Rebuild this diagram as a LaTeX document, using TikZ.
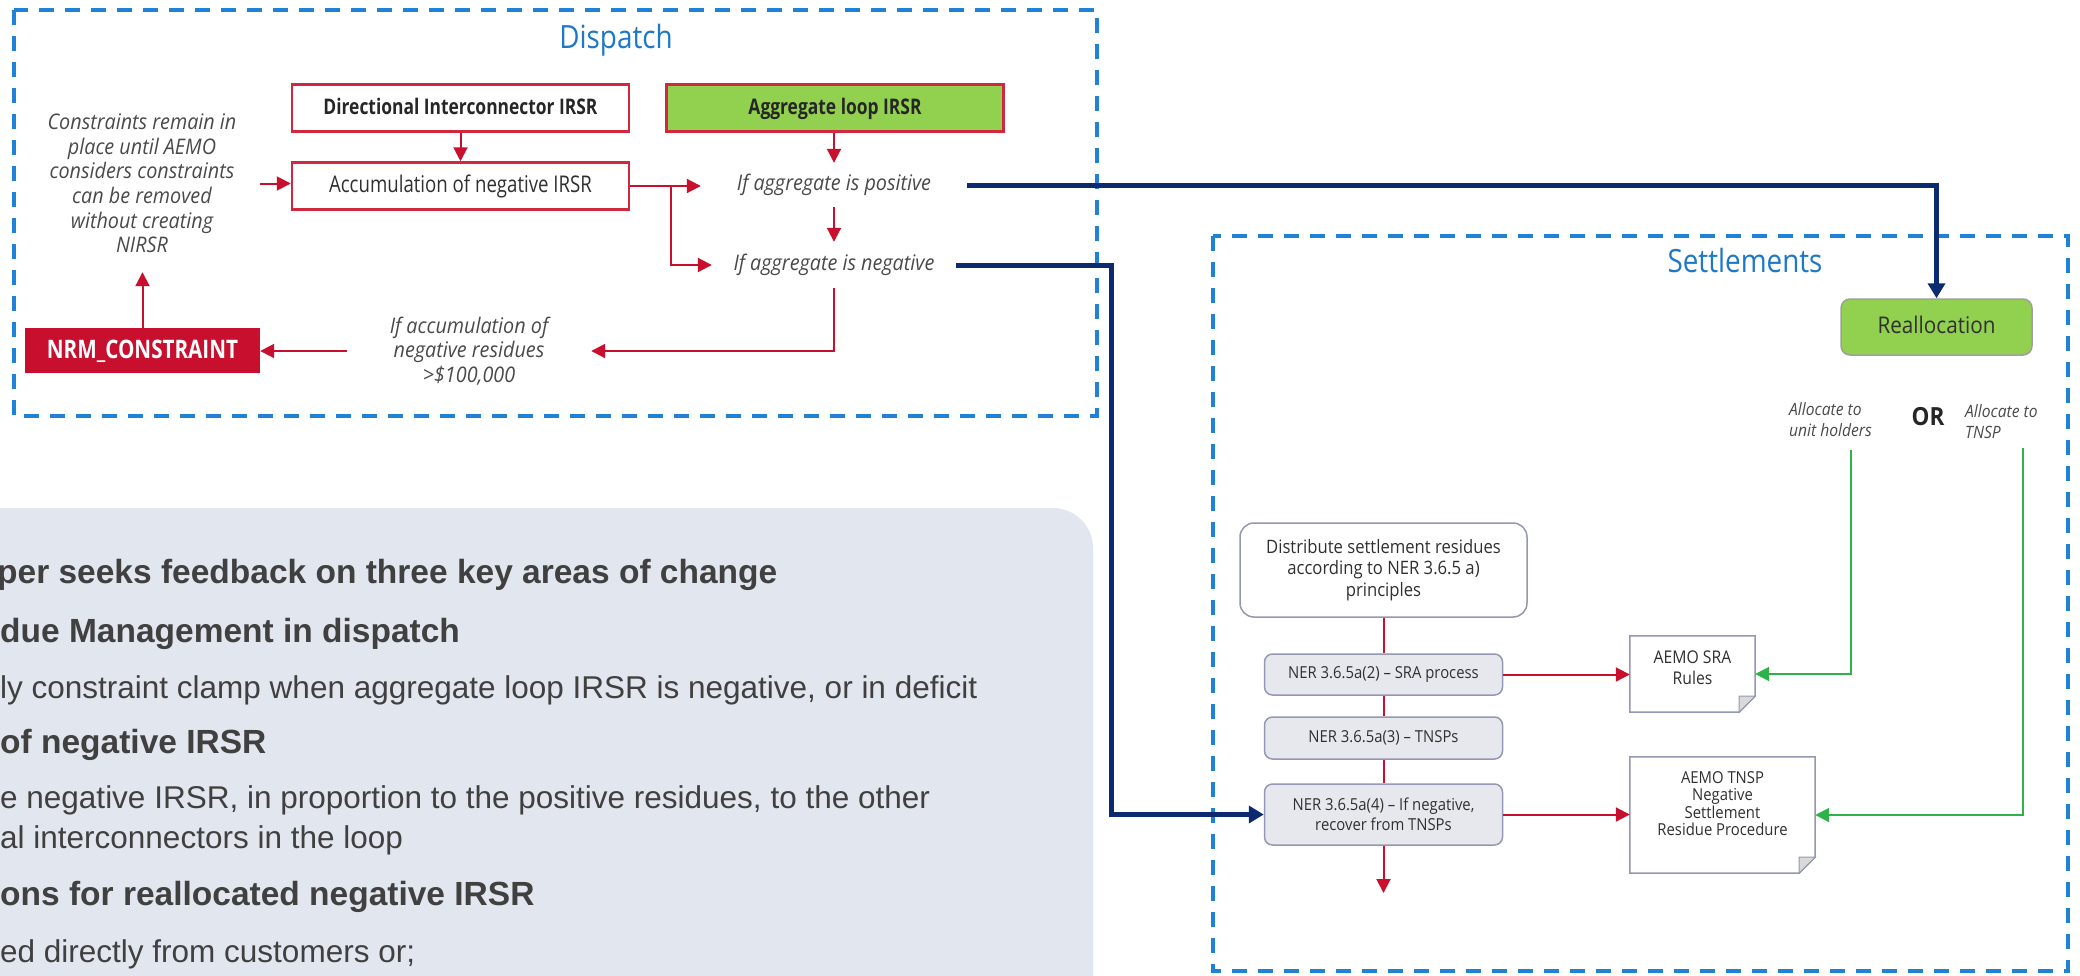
\documentclass[tikz,border=0pt]{standalone}
\usepackage{fontspec}
\setmainfont{Liberation Sans}
\newfontfamily\dg[FakeStretch=0.9]{Open Sans}
\newfontfamily\dgc[FakeStretch=0.81]{Open Sans}
\newfontfamily\dgt[FakeStretch=0.87]{Open Sans}
\newfontfamily\dgi[FakeStretch=0.92]{Open Sans}
\usetikzlibrary{arrows.meta,calc}

\definecolor{dashblue}{HTML}{1F82D6}
\definecolor{titleblue}{HTML}{1E78C8}
\definecolor{flowred}{HTML}{C8102E}
\definecolor{boxred}{HTML}{D2283F}
\definecolor{navy}{HTML}{0B2A6F}
\definecolor{leaf}{HTML}{92D050}
\definecolor{flowgreen}{HTML}{2DB34A}
\definecolor{greybox}{HTML}{E7E8EE}
\definecolor{greyedge}{HTML}{9598B2}
\definecolor{panel}{HTML}{E2E6EF}
\definecolor{panelink}{HTML}{404040}
\definecolor{ink}{HTML}{303030}
\definecolor{softink}{HTML}{4A4A4A}

\tikzset{
  zone/.style={draw=dashblue, line width=3.5pt, dash pattern=on 15pt off 11pt},
  zonetitle/.style={text=titleblue, inner sep=0pt, font=\dgt\fontsize{32}{36}\selectfont},
  redbox/.style={draw=boxred, line width=2.5pt, fill=white, minimum width=337pt,
    minimum height=47pt, inner sep=0pt, text=ink, text height=16pt, text depth=3pt,
    font=\dgc\fontsize{23}{26}\selectfont},
  boldtxt/.style={font=\dgc\bfseries\fontsize{21.5}{25}\selectfont, text=black!85},
  cond/.style={inner sep=0pt, align=center, text=softink,
    font=\dgi\itshape\fontsize{21.5}{24.6}\selectfont},
  nrmbox/.style={fill=flowred, text=white, minimum width=235pt, minimum height=45pt,
    inner sep=0pt, text height=17pt, text depth=2pt,
    font=\dgc\bfseries\fontsize{25.5}{28}\selectfont},
  redflow/.style={draw=flowred, line width=2pt, -{Triangle[length=14pt,width=14pt]}},
  redline/.style={draw=flowred, line width=2pt},
  navyflow/.style={draw=navy, line width=5pt},
  navyhead/.style={-{Triangle[length=15pt,width=17pt]}},
  greenflow/.style={draw=flowgreen, line width=2pt, -{Triangle[length=14pt,width=14pt]}},
  nerbox/.style={draw=greyedge, line width=1.5pt, fill=greybox, rounded corners=8pt,
    minimum width=238pt, inner sep=0pt, align=center, text=ink,
    font=\dg\fontsize{16.5}{20}\selectfont},
  distbox/.style={draw=greyedge, line width=1.5pt, fill=white, rounded corners=14pt,
    minimum width=287pt, minimum height=94pt, inner sep=0pt, align=center, text=ink,
    font=\dg\fontsize{18.5}{21.5}\selectfont},
  greenbox/.style={draw=gray!75, line width=1.5pt, fill=leaf, rounded corners=9pt,
    minimum width=191pt, minimum height=56pt, inner sep=0pt, text=ink,
    text height=15pt, text depth=3pt, font=\dg\fontsize{23}{26}\selectfont},
  docbox/.style={inner sep=0pt},
  docline/.style={draw=greyedge, line width=1.5pt, fill=white},
  docfold/.style={draw=greyedge, line width=1pt, fill=gray!30},
  doctext/.style={inner sep=0pt, align=center, text=ink, font=\dg\fontsize{17.5}{20}\selectfont},
  smallit/.style={inner sep=0pt, align=left, text=softink, font=\dgi\itshape\fontsize{17}{21}\selectfont},
  orlabel/.style={inner sep=0pt, text=black!85, font=\dg\bfseries\fontsize{25}{28}\selectfont},
  bodyb/.style={inner sep=0pt, anchor=base west, text=panelink, font=\bfseries\fontsize{33.5}{40}\selectfont},
  bodyr/.style={inner sep=0pt, anchor=base west, text=panelink, font=\fontsize{31.5}{38}\selectfont},
}

\begin{document}
\begin{tikzpicture}[x=1pt,y=-1pt]
\useasboundingbox (0,0) rectangle (2080,975);
\clip (0,0) rectangle (2080,975);
\fill[white] (0,0) rectangle (2080,975);

% ---- text panel, lower left ----
\fill[panel, rounded corners=40pt] (-60,508) rectangle (1093,1040);
\node[bodyb] (p1) at (-3,583) {per seeks feedback on three key areas of change};
\node[bodyb] (p2) at (0,642) {due Management in dispatch};
\node[bodyr] (p3) at (0,698) {ly constraint clamp when aggregate loop IRSR is negative, or in deficit};
\node[bodyb] (p4) at (0,753) {of negative IRSR};
\node[bodyr] (p5) at (0,808) {e negative IRSR, in proportion to the positive residues, to the other};
\node[bodyr] (p6) at (0,848) {al interconnectors in the loop};
\node[bodyb] (p7) at (0,905) {ons for reallocated negative IRSR};
\node[bodyr] (p8) at (0,962) {ed directly from customers or;};

% ---- zones ----
\draw[zone] (14,10) rectangle (1097,416);
\draw[zone] (1213,236) rectangle (2068,971);
\node[zonetitle] (tdisp) at (616,40) {Dispatch};
\node[zonetitle] (tsett) at (1745,260) {Settlements};

% ---- dispatch flow ----
\node[redbox, boldtxt] (dir) at (460.5,108) {Directional Interconnector IRSR};
\node[redbox, boldtxt, fill=leaf] (agg) at (835,108) {Aggregate loop IRSR};
\node[redbox] (acc) at (460.5,186) {Accumulation of negative IRSR};
\node[cond, minimum width=266pt, minimum height=44pt] (pos) at (834,185) {If aggregate is positive};
\node[cond, minimum width=244pt, minimum height=46pt] (neg) at (834,265) {If aggregate is negative};
\node[cond, minimum width=236pt, minimum height=177pt] (hold) at (142,183.5)
  {Constraints remain in\\place until AEMO\\considers constraints\\can be removed\\without creating\\NIRSR};
\node[nrmbox] (nrm) at (142.5,350.5) {NRM\_CONSTRAINT};
\node[cond, minimum width=244pt] (trig) at (469,351) {If accumulation of\\negative residues\\>\$100,000};
\coordinate (split) at (671,186);

\draw[redflow] (dir.south) -- (acc.north);
\draw[redflow] (agg.south -| pos.north) -- (pos.north);
\draw[redflow] (pos.south) -- (neg.north);
\draw[redflow] (acc.east) -- (acc.east -| pos.west);
\draw[redflow] (split) |- (neg.west);
\draw[redflow] (neg.south) |- (trig.east);
\draw[redflow] (trig.west) -- (trig.west -| nrm.east);
\draw[redflow] (nrm.north) -- (nrm.north |- hold.south);
\draw[redflow] (hold.east) -- (hold.east -| acc.west);

% ---- settlements flow ----
\node[greenbox] (realloc) at (1936.5,327) {Reallocation};
\node[smallit, anchor=west] (allocU) at (1789,419.5) {Allocate to\\unit holders};
\node[orlabel] (or) at (1928,417) {OR};
\node[smallit, anchor=west] (allocT) at (1965,422) {Allocate to\\TNSP};

\node[distbox] (dist) at (1383.5,570) {Distribute settlement residues\\according to NER 3.6.5 a)\\principles};
\node[nerbox, minimum height=41pt] (nr2) at (1383.5,674.5) {NER 3.6.5a(2) – SRA process};
\node[nerbox, minimum height=42pt] (nr3) at (1383.5,738) {NER 3.6.5a(3) – TNSPs};
\node[nerbox, minimum height=61pt] (nr4) at (1383.5,814.5) {NER 3.6.5a(4) – If negative,\\recover from TNSPs};
\coordinate (out) at (1383.5,893);

\node[docbox, minimum width=125pt, minimum height=76pt] (doc1) at (1692.5,674) {};
\node[docbox, minimum width=185pt, minimum height=116pt] (doc2) at (1722.5,815) {};
\foreach \d in {doc1,doc2} {
  \draw[docline] (\d.north west) -- (\d.north east) -- ([yshift=16pt]\d.south east)
    -- ([xshift=-16pt]\d.south east) -- (\d.south west) -- cycle;
  \draw[docfold] ([yshift=16pt]\d.south east) -- ([xshift=-16pt]\d.south east)
    -- ([xshift=-16pt,yshift=16pt]\d.south east) -- cycle;
}
\node[doctext, font=\dg\fontsize{17.5}{21}\selectfont] (doc1t) at (1692.5,667.5) {AEMO SRA\\Rules};
\node[doctext, font=\dg\fontsize{16.5}{17.6}\selectfont] (doc2t) at (1722.5,803.5) {AEMO TNSP\\Negative\\Settlement\\Residue Procedure};

\draw[redline] (dist.south) -- (nr2.north);
\draw[redline] (nr2.south) -- (nr3.north);
\draw[redline] (nr3.south) -- (nr4.north);
\draw[redflow] (nr4.south) -- (out);
\draw[redflow] (nr2.east) -- (nr2.east -| doc1.west);
\draw[redflow] (nr4.east) -- (nr4.east -| doc2.west);

\coordinate (gU) at (1851,450);
\coordinate (gT) at (2023,448);
\draw[greenflow] (gU) |- (doc1.east);
\draw[greenflow] (gT) |- (doc2.east);

% ---- links from dispatch into settlements ----
\coordinate (drop) at (1111,265);
\draw[navyflow, navyhead] (pos.east) -| (realloc.north);
\draw[navyflow, navyhead] (neg.east) -- (drop) |- (nr4.west);
\end{tikzpicture}
\end{document}
